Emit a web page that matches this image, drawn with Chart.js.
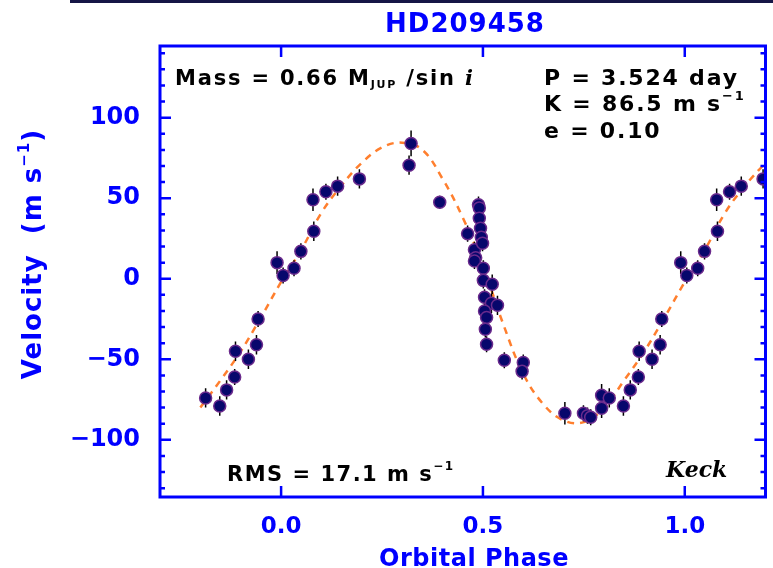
<!DOCTYPE html>
<html>
<head>
<meta charset="utf-8">
<script src="https://cdn.jsdelivr.net/npm/chart.js@4.4.1/dist/chart.umd.min.js"></script>
<style>
  html, body { margin: 0; padding: 0; background: #fff; }
  #wrap { width: 773px; height: 568px; }
</style>
</head>
<body>
<div id="wrap"><canvas id="rvChart" width="773" height="568"></canvas></div>
<script>
// radial velocity of HD209458, phased to P = 3.524 d (points beyond 0..1 are the repeated cycle)
var obsPhase = [
  -0.187, -0.152, -0.135, -0.115, -0.113, -0.081, -0.061, -0.057, -0.010,
  0.005, 0.032, 0.049, 0.079, 0.081, 0.111, 0.140, 0.194, 0.317, 0.322,
  0.393, 0.462, 0.479, 0.482, 0.479, 0.489, 0.491, 0.491, 0.494, 0.496,
  0.499, 0.501, 0.501, 0.523, 0.504, 0.521, 0.536, 0.504, 0.509, 0.506,
  0.509, 0.553, 0.600, 0.597, 0.703, 0.749, 0.759, 0.767, 0.794, 0.794,
  0.813, 0.848, 0.865, 0.885, 0.887, 0.919, 0.939, 0.943, 0.990,
  1.005, 1.032, 1.049, 1.079, 1.081, 1.111, 1.140, 1.194
];
var obsVel = [
  -74, -79, -69, -61, -45, -50, -41, -25, 10,
  2, 6.5, 17, 49, 29.5, 54, 57.5, 62, 70.5, 84,
  47.5, 28, 18, 13, 11, 46, 44, 37.6, 31.4, 25.8,
  22, 6.5, -1, -3.4, -11.5, -15.2, -16.5, -20, -24, -31.4,
  -40.7, -50.6, -52, -57.5, -83.5, -83.5, -85, -86, -72.4, -80.4,
  -74, -79, -69, -61, -45, -50, -41, -25, 10,
  2, 6.5, 17, 49, 29.5, 54, 57.5, 62
];
var obsErr = [
  6, 6, 6, 5, 6, 6, 6, 5, 7,
  5, 5, 5, 7, 6, 5, 6, 6, 6, 8,
  4, 5, 5, 5, 5, 5, 5, 5, 5, 5,
  5, 5, 5, 6, 5, 6, 6, 5, 5, 5,
  5, 5, 5, 5, 7, 5, 5, 5, 7, 6,
  6, 6, 6, 5, 6, 6, 6, 5, 7,
  5, 5, 5, 7, 6, 5, 6, 6
];

// orbit fit
var fitPhase = [-0.2, -0.15, -0.1, -0.05, 0, 0.05, 0.1, 0.15, 0.2, 0.25, 0.3, 0.35, 0.4, 0.45,
  0.5, 0.55, 0.6, 0.65, 0.7, 0.75, 0.8, 0.85, 0.9, 0.95, 1.0, 1.05, 1.1, 1.15, 1.2];
var fitVel = [-80, -63, -45, -24, -2, 18, 41, 58, 72, 81.5, 84.5, 80, 62, 38,
  8, -28, -59, -78, -88, -89, -80, -63, -45, -24, -2, 18, 41, 58, 72];

var xTickValues = [0.0, 0.5, 1.0];
var yTickValues = [-100, -50, 0, 50, 100];
var yMinorStep = 10;

var BLUE = '#0000ff';
var FONT = 'DejaVu Sans';

function fontOf(r) {
  return (r.style || 'bold') + ' ' + r.size + 'px ' + (r.family || FONT);
}

// draw a row of text pieces (for sub/superscripts)
function drawRuns(ctx, x, y, runs, align, spacing) {
  ctx.letterSpacing = (spacing || 0) + 'px';
  var total = 0;
  runs.forEach(function (r) {
    ctx.font = fontOf(r);
    r.w = ctx.measureText(r.t).width;
    total += r.w;
  });
  var cx = align === 'center' ? x - total / 2 : x;
  runs.forEach(function (r) {
    ctx.font = fontOf(r);
    ctx.fillText(r.t, cx, y + (r.dy || 0));
    cx += r.w;
  });
  ctx.letterSpacing = '0px';
}

var errorBars = {
  id: 'errorBars',
  beforeDatasetDraw: function (chart, args) {
    if (args.index !== 1) return;
    var ctx = chart.ctx, x = chart.scales.x, y = chart.scales.y, a = chart.chartArea;
    ctx.save();
    ctx.beginPath();
    ctx.rect(a.left, a.top, a.right - a.left, a.bottom - a.top);
    ctx.clip();
    ctx.strokeStyle = '#000';
    ctx.lineWidth = 1.5;
    obsPhase.forEach(function (p, i) {
      var px = x.getPixelForValue(p);
      ctx.beginPath();
      ctx.moveTo(px, y.getPixelForValue(obsVel[i] - obsErr[i]));
      ctx.lineTo(px, y.getPixelForValue(obsVel[i] + obsErr[i]));
      ctx.stroke();
    });
    ctx.restore();
  }
};

// IDL style box with inward ticks on all four sides
var axisBox = {
  id: 'axisBox',
  afterDraw: function (chart) {
    var ctx = chart.ctx, x = chart.scales.x, y = chart.scales.y, a = chart.chartArea;
    ctx.save();
    ctx.strokeStyle = BLUE;
    ctx.lineWidth = 3;
    ctx.strokeRect(a.left, a.top, a.right - a.left, a.bottom - a.top);
    ctx.lineWidth = 2.5;
    ctx.beginPath();
    var v0 = Math.ceil(y.min / yMinorStep) * yMinorStep;
    for (var v = v0; v <= y.max; v += yMinorStep) {
      var py = y.getPixelForValue(v);
      var len = (v % 50 === 0) ? 11 : 5;
      ctx.moveTo(a.left, py); ctx.lineTo(a.left + len, py);
      ctx.moveTo(a.right, py); ctx.lineTo(a.right - len, py);
    }
    xTickValues.forEach(function (t) {
      var px = x.getPixelForValue(t);
      ctx.moveTo(px, a.bottom); ctx.lineTo(px, a.bottom - 11);
      ctx.moveTo(px, a.top); ctx.lineTo(px, a.top + 11);
    });
    ctx.stroke();

    // dark strip along the top edge of the original scan
    ctx.fillStyle = '#161646';
    ctx.fillRect(70, 0, 703, 3);

    // title
    ctx.fillStyle = BLUE;
    ctx.textBaseline = 'alphabetic';
    drawRuns(ctx, 465, 32, [{ t: 'HD209458', size: 26 }], 'center', 1);

    // axis titles
    drawRuns(ctx, 474, 566, [{ t: 'Orbital Phase', size: 24 }], 'center', 0.5);
    ctx.save();
    ctx.translate(41, 254);
    ctx.rotate(-Math.PI / 2);
    drawRuns(ctx, 0, 0, [
      { t: 'Velocity  (m s', size: 26 },
      { t: '\u22121', size: 15, dy: -12 },
      { t: ')', size: 26 }
    ], 'center', 1);
    ctx.restore();

    // annotations
    ctx.fillStyle = '#000';
    drawRuns(ctx, 175, 85, [
      { t: 'Mass = 0.66 M', size: 21 },
      { t: 'JUP', size: 11, dy: 3 },
      { t: ' /sin ', size: 21 },
      { t: 'i', size: 21, style: 'bold italic', family: 'DejaVu Serif' }
    ], 'left', 1.8);
    drawRuns(ctx, 544, 85, [{ t: 'P = 3.524 day', size: 22 }], 'left', 1.8);
    drawRuns(ctx, 544, 111, [
      { t: 'K = 86.5 m s', size: 22 },
      { t: '\u22121', size: 13, dy: -11 }
    ], 'left', 1.8);
    drawRuns(ctx, 544, 138, [{ t: 'e = 0.10', size: 22 }], 'left', 1.8);
    drawRuns(ctx, 227, 481, [
      { t: 'RMS = 17.1 m s', size: 21 },
      { t: '\u22121', size: 12, dy: -11 }
    ], 'left', 1.5);
    drawRuns(ctx, 666, 477, [{ t: 'Keck', size: 22, style: 'bold italic', family: 'DejaVu Serif' }], 'left', 0);
    ctx.restore();
  }
};

var ctx = document.getElementById('rvChart').getContext('2d');
var rvChart = new Chart(ctx, {
  type: 'scatter',
  data: {
    datasets: [{
      type: 'line',
      label: 'fit',
      data: fitPhase.map(function (p, i) { return { x: p, y: fitVel[i] }; }),
      borderColor: '#ff7f2e',
      borderWidth: 2.5,
      borderDash: [7, 6],
      pointRadius: 0,
      tension: 0.4,
      fill: false,
      order: 2
    }, {
      label: 'Keck',
      data: obsPhase.map(function (p, i) { return { x: p, y: obsVel[i] }; }),
      backgroundColor: '#07076c',
      borderColor: '#6a2a8c',
      borderWidth: 1.5,
      pointRadius: 6,
      order: 1
    }]
  },
  options: {
    responsive: false,
    animation: false,
    layout: { padding: { top: 46, right: 3, bottom: 0, left: 0 } },
    plugins: { legend: { display: false }, tooltip: { enabled: false } },
    scales: {
      x: {
        type: 'linear',
        min: -0.3,
        max: 1.2,
        grid: { display: false },
        border: { display: false },
        afterBuildTicks: function (scale) {
          scale.ticks = xTickValues.map(function (v) { return { value: v }; });
        },
        afterFit: function (scale) { scale.height = 71; },
        ticks: {
          color: BLUE,
          font: { family: FONT, size: 23, weight: 'bold' },
          padding: 8,
          maxRotation: 0,
          callback: function (v) { return Number(v).toFixed(1); }
        }
      },
      y: {
        min: -135.5,
        max: 144.5,
        grid: { display: false },
        border: { display: false },
        afterBuildTicks: function (scale) {
          scale.ticks = yTickValues.map(function (v) { return { value: v }; });
        },
        afterFit: function (scale) { scale.width = 160; },
        ticks: {
          color: BLUE,
          font: { family: FONT, size: 24, weight: 'bold' },
          padding: 12,
          callback: function (v) { return v < 0 ? '\u2212' + Math.abs(v) : String(v); }
        }
      }
    }
  },
  plugins: [errorBars, axisBox]
});
</script>
</body>
</html>
